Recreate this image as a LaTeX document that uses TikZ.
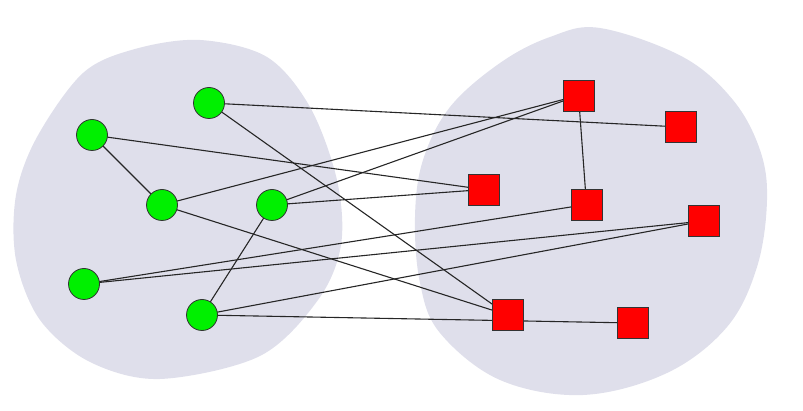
\documentclass[tikz,border=0pt]{standalone}
\definecolor{blob}{RGB}{223,223,235}
\definecolor{gnode}{RGB}{0,240,0}
\definecolor{rnode}{RGB}{255,0,0}
\pgfdeclarelayer{blobs}
\pgfdeclarelayer{edges}
\pgfsetlayers{blobs,edges,main}
\begin{document}
\begin{tikzpicture}[x=1pt,y=-1pt,
  gnode/.style={circle,draw=black!80,fill=gnode,line width=0.8pt,minimum size=31pt,inner sep=0pt},
  rnode/.style={rectangle,draw=black!80,fill=rnode,line width=0.8pt,minimum size=31pt,inner sep=0pt},
  edge/.style={draw=black!85,line width=1.1pt}]
\useasboundingbox (0,0) rectangle (803,411);
\begin{pgfonlayer}{blobs}
\fill[blob] plot[smooth cycle,tension=0.55] coordinates {(200,40) (267,57) (310,107) (337,180) (341,245) (318,300) (260,356) (160,379) (90,362) (40,320) (16,260) (16,195) (37,137) (83,73) (135,49)};
\fill[blob] plot[smooth cycle,tension=0.6] coordinates {(600,28) (683,57) (733,100) (760,150) (767,200) (757,267) (727,327) (667,373) (583,395) (500,380) (440,333) (420,283) (415,217) (423,160) (450,107) (500,63) (550,37)};
\end{pgfonlayer}
\node[gnode] (g1) at (209,103) {};
\node[gnode] (g2) at (92,135) {};
\node[gnode] (g3) at (162,205) {};
\node[gnode] (g4) at (272,205) {};
\node[gnode] (g5) at (84,284) {};
\node[gnode] (g6) at (202,315) {};
\node[rnode] (r1) at (578.5,95.5) {};
\node[rnode] (r2) at (680.5,127) {};
\node[rnode] (r3) at (484,189.5) {};
\node[rnode] (r4) at (586.5,204.5) {};
\node[rnode] (r5) at (704,221) {};
\node[rnode] (r6) at (507.5,315) {};
\node[rnode] (r7) at (633,323) {};
\begin{pgfonlayer}{edges}
\draw[edge] (g1.center) -- (r2.center);
\draw[edge] (g1.center) -- (r6.center);
\draw[edge] (g2.center) -- (r3.center);
\draw[edge] (g2.center) -- (g3.center);
\draw[edge] (g3.center) -- (r1.center);
\draw[edge] (g3.center) -- (r6.center);
\draw[edge] (g4.center) -- (r1.center);
\draw[edge] (g4.center) -- (r3.center);
\draw[edge] (g4.center) -- (g6.center);
\draw[edge] (g5.center) -- (r4.center);
\draw[edge] (g5.center) -- (r5.center);
\draw[edge] (g6.center) -- (r5.center);
\draw[edge] (g6.center) -- (r7.center);
\draw[edge] (r1.center) -- (r4.center);
\end{pgfonlayer}
\end{tikzpicture}
\end{document}
